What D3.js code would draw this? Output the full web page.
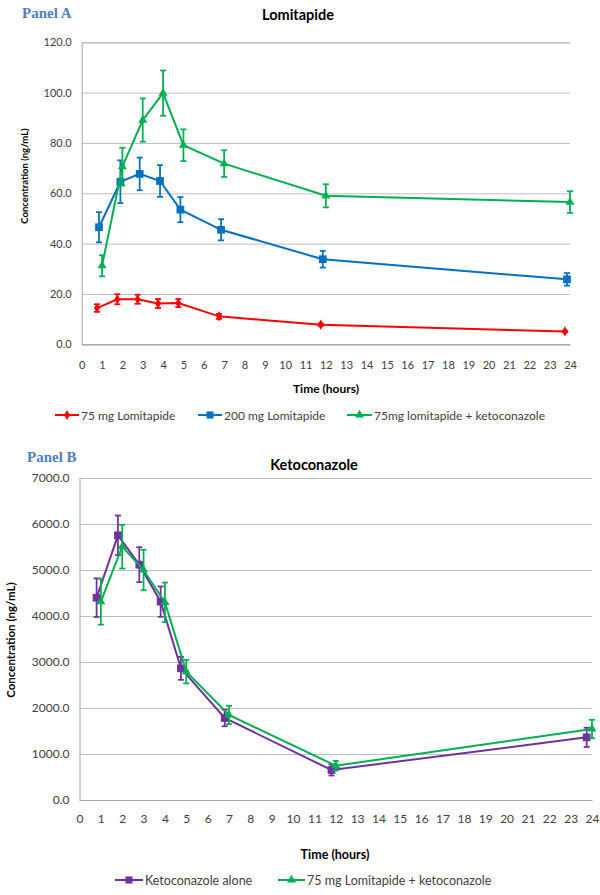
<!DOCTYPE html>
<html><head><meta charset="utf-8">
<script src="https://cdn.jsdelivr.net/npm/d3@7"></script>
<style>
body{margin:0;background:#fff;}
svg{display:block;}
text{font-family:Lato,"Open Sans",sans-serif;}
</style></head>
<body>
<svg id="chart" width="600" height="895"></svg>
<script>
// ---- Panel A data (Lomitapide, ng/mL) ----
const timesA = [0, 1, 2, 3, 4, 5, 6, 7, 8, 9, 10, 11, 12, 13, 14, 15, 16, 17, 18, 19, 20, 21, 22, 23, 24];
const yTicksA = [0, 20, 40, 60, 80, 100, 120];
const time75 = [0.75, 1.75, 2.75, 3.75, 4.75, 6.75, 11.75, 23.75];
const lomi75 = [14.4, 17.9, 17.9, 16.2, 16.4, 11.1, 7.8, 5.1];
const lomi75Err = [1.5, 2.0, 1.8, 1.8, 1.6, 1.0, 0.5, 0.3];
const time200 = [0.85, 1.9, 2.85, 3.85, 4.85, 6.85, 11.85, 23.85];
const lomi200 = [46.5, 64.6, 67.7, 64.9, 53.5, 45.5, 33.8, 25.8];
const lomi200Err = [6.0, 8.5, 6.5, 6.3, 5.0, 4.2, 3.3, 2.5];
const timeCombo = [1, 2, 3, 4, 5, 7, 12, 24];
const lomiKeto = [31.2, 70.6, 89.1, 99.8, 79.1, 71.8, 59.0, 56.5];
const lomiKetoErr = [4.2, 7.5, 8.6, 9.0, 6.3, 5.3, 4.6, 4.3];
const seriesNamesA = ["75 mg Lomitapide", "200 mg Lomitapide", "75mg lomitapide + ketoconazole"];

// ---- Panel B data (Ketoconazole, ng/mL) ----
const yTicksB = [0, 1000, 2000, 3000, 4000, 5000, 6000, 7000];
const timeKeto = [0.8, 1.8, 2.8, 3.8, 4.75, 6.8, 11.8, 23.75];
const ketoAlone = [4398, 5754, 5116, 4312, 2862, 1783, 652, 1362];
const ketoAloneErr = [420, 430, 380, 330, 250, 180, 120, 210];
const timeKetoCombo = [1, 2, 3, 4, 5, 7, 12, 24];
const ketoCombo = [4312, 5507, 5000, 4297, 2790, 1848, 746, 1543];
const ketoComboErr = [500, 475, 440, 430, 255, 200, 105, 200];
const seriesNamesB = ["Ketoconazole alone", "75 mg Lomitapide + ketoconazole"];

const svg = d3.select("#chart");

function drawPanel(cfg) {
  const g = svg.append("g");
  const x = d3.scaleLinear().domain([0, 24]).range([cfg.left, cfg.right]);
  const y = d3.scaleLinear().domain([0, cfg.yMax]).range([cfg.bottom, cfg.top]);

  g.append("text").attr("x", cfg.panelX).attr("y", cfg.panelY)
    .style("font-family", "'Liberation Serif',serif")
    .attr("font-weight", "bold").attr("font-size", 15).attr("fill", "#4F81BD")
    .text(cfg.panelLabel);
  g.append("text").attr("x", cfg.titleX).attr("y", cfg.titleY).attr("text-anchor", "middle")
    .attr("font-weight", "bold").attr("font-size", 14.5).attr("fill", "#000").text(cfg.title);

  const yAxis = d3.axisLeft(y).tickValues(cfg.yTicks).tickSize(-(cfg.right - cfg.left)).tickPadding(10)
    .tickFormat(d3.format(".1f"));
  const ya = g.append("g").attr("transform", `translate(${cfg.left},0)`).call(yAxis);
  ya.select(".domain").attr("stroke", "#A6A6A6");
  ya.selectAll(".tick line").attr("stroke", "#BFBFBF").attr("stroke-width", 1);
  ya.selectAll(".tick text").attr("font-size", cfg.tickFont).attr("fill", "#404040")
    .style("font-family", "Lato,sans-serif");

  const xAxis = d3.axisBottom(x).tickValues(timesA).tickSize(0).tickPadding(cfg.xPad);
  const xa = g.append("g").attr("transform", `translate(0,${cfg.bottom})`).call(xAxis);
  xa.select(".domain").attr("stroke", "#A6A6A6");
  xa.selectAll(".tick text").attr("font-size", cfg.tickFont).attr("fill", "#404040")
    .style("font-family", "Lato,sans-serif");

  g.append("text").attr("x", cfg.xTitleX).attr("y", cfg.xTitleY).attr("text-anchor", "middle")
    .attr("font-weight", "bold").attr("font-size", cfg.xTitleFont).attr("fill", "#000").text("Time (hours)");
  g.append("text").attr("transform", `translate(${cfg.yTitleX},${cfg.yTitleY}) rotate(-90)`)
    .attr("text-anchor", "middle").attr("font-weight", "bold").attr("font-size", cfg.yTitleFont).attr("fill", "#000")
    .text("Concentration (ng/mL)");

  const line = d3.line().x(d => x(d.t)).y(d => y(d.v));
  cfg.series.forEach(s => {
    const data = s.t.map((t, i) => ({ t: t, v: s.v[i], e: s.e[i] }));
    const sg = g.append("g");
    sg.append("path").datum(data).attr("d", line).attr("fill", "none")
      .attr("stroke", s.color).attr("stroke-width", 2);
    const eb = sg.selectAll(".eb").data(data).enter().append("g");
    eb.append("line").attr("x1", d => x(d.t)).attr("x2", d => x(d.t))
      .attr("y1", d => y(d.v + d.e)).attr("y2", d => y(d.v - d.e))
      .attr("stroke", s.color).attr("stroke-width", 1.75);
    [1, -1].forEach(sign => {
      eb.append("line").attr("x1", d => x(d.t) - 3).attr("x2", d => x(d.t) + 3)
        .attr("y1", d => y(d.v + sign * d.e)).attr("y2", d => y(d.v + sign * d.e))
        .attr("stroke", s.color).attr("stroke-width", 1.75);
    });
    sg.selectAll(".mk").data(data).enter().append("path")
      .attr("transform", d => `translate(${x(d.t)},${y(d.v)})`)
      .attr("d", d3.symbol().type(s.symbol).size(s.size)).attr("fill", s.color);
  });

  cfg.legend.forEach(l => {
    const lg = g.append("g");
    lg.append("line").attr("x1", l.x).attr("x2", l.x + l.w).attr("y1", cfg.legendY).attr("y2", cfg.legendY)
      .attr("stroke", l.color).attr("stroke-width", 2);
    lg.append("path").attr("transform", `translate(${l.x + l.w / 2},${cfg.legendY})`)
      .attr("d", d3.symbol().type(l.symbol).size(l.size)).attr("fill", l.color);
    lg.append("text").attr("x", l.x + l.w + 2).attr("y", cfg.legendY + 4.5).attr("font-size", cfg.legendFont)
      .attr("fill", "#404040").text(l.name);
  });
}

const red = "#FF0000", blue = "#0070C0", green = "#00B050", purple = "#7030A0";

drawPanel({
  panelLabel: "Panel A", panelX: 22, panelY: 18, title: "Lomitapide", titleX: 298, titleY: 20,
  left: 81.7, right: 570, top: 42.3, bottom: 344.3, yMax: 120, yTicks: yTicksA, tickFont: 11,
  xPad: 17, xTitleX: 326, xTitleY: 393, xTitleFont: 12, yTitleX: 28, yTitleY: 176, yTitleFont: 9.5,
  legendY: 415, legendFont: 12,
  series: [
    { t: time75, v: lomi75, e: lomi75Err, color: red, symbol: d3.symbolDiamond, size: 30 },
    { t: time200, v: lomi200, e: lomi200Err, color: blue, symbol: d3.symbolSquare, size: 60 },
    { t: timeCombo, v: lomiKeto, e: lomiKetoErr, color: green, symbol: d3.symbolTriangle, size: 35 }
  ],
  legend: [
    { x: 55, w: 24, name: seriesNamesA[0], color: red, symbol: d3.symbolDiamond, size: 30 },
    { x: 198, w: 24, name: seriesNamesA[1], color: blue, symbol: d3.symbolSquare, size: 50 },
    { x: 347, w: 25, name: seriesNamesA[2], color: green, symbol: d3.symbolTriangle, size: 35 }
  ]
});

drawPanel({
  panelLabel: "Panel B", panelX: 27, panelY: 462, title: "Ketoconazole", titleX: 314, titleY: 470,
  left: 79.5, right: 592, top: 478, bottom: 800, yMax: 7000, yTicks: yTicksB, tickFont: 12,
  xPad: 14, xTitleX: 335, xTitleY: 859, xTitleFont: 12.5, yTitleX: 15, yTitleY: 640, yTitleFont: 11.5,
  legendY: 880, legendFont: 12.5,
  series: [
    { t: timeKeto, v: ketoAlone, e: ketoAloneErr, color: purple, symbol: d3.symbolSquare, size: 60 },
    { t: timeKetoCombo, v: ketoCombo, e: ketoComboErr, color: green, symbol: d3.symbolTriangle, size: 35 }
  ],
  legend: [
    { x: 115, w: 28, name: seriesNamesB[0], color: purple, symbol: d3.symbolSquare, size: 50 },
    { x: 278, w: 27, name: seriesNamesB[1], color: green, symbol: d3.symbolTriangle, size: 35 }
  ]
});
</script>
</body></html>
